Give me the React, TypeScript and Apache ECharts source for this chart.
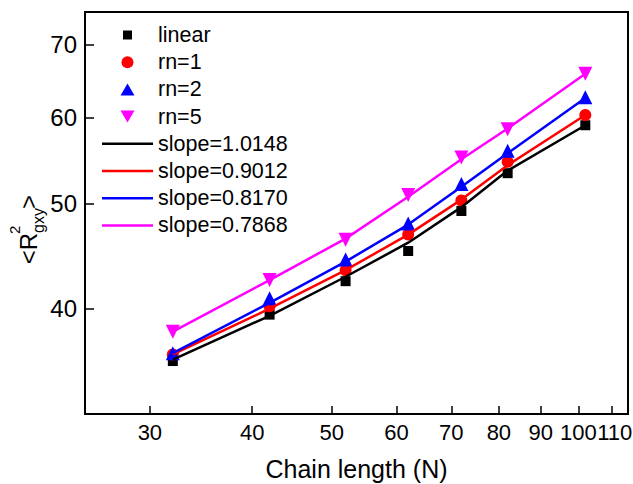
import React, { useEffect, useRef } from "react";
import * as echarts from "echarts";

const chainLengths = [32, 42, 52, 62, 72, 82, 102];
const linearPts = [35.8, 39.5, 42.4, 45.2, 49.2, 53.3, 59.0];
const rn1Pts = [36.3, 40.2, 43.4, 46.8, 50.3, 54.6, 60.3];
const rn2Pts = [36.4, 40.9, 44.4, 47.9, 52.1, 55.9, 62.6];
const rn5Pts = [38.1, 42.5, 46.3, 50.9, 55.1, 58.5, 65.8];
const fitBlack = [35.9, 39.4, 42.8, 46.0, 49.6, 53.6, 59.0];
const fitRed = [36.3, 40.0, 43.4, 46.8, 50.4, 54.2, 60.3];
const fitBlue = [36.4, 40.5, 44.2, 47.8, 51.8, 55.6, 62.5];
const fitMagenta = [38.1, 42.5, 46.4, 50.7, 54.9, 58.6, 65.8];
const xTicks = [30, 40, 50, 60, 70, 80, 90, 100, 110];
const xLabelsMain = [30, 40, 50, 60, 70, 80, 90, 100];
const xLabelsExtra = [110];
const yTicks = [40, 50, 60, 70];

const FONT = "'Liberation Sans', Arial, sans-serif";
const LINE_ICON = "path://M0,0H60V3H0Z";
const SQUARE_ICON = "path://M0,0M14,14M2.5,2.5H11.5V11.5H2.5Z";
const CIRCLE_ICON = "path://M0,0M14,14M7,1A6,6,0,1,1,7,13A6,6,0,1,1,7,1Z";
const UP_ICON = "path://M0,0M14,14M7,1L14,13L0,13Z";
const DOWN_ICON = "path://M0,0M14,14M0,1L14,1L7,13Z";

const pair = (ys: number[]) => chainLengths.map((x, i) => [x, ys[i]]);

export default function App() {
  const ref = useRef<HTMLDivElement>(null);
  useEffect(() => {
    if (!ref.current) return;
    const chart = echarts.init(ref.current, undefined, { renderer: "svg" });
    const scatter = (name: string, data: number[], symbol: string, size: number, color: string, rotate = 0) => ({
      name,
      type: "scatter",
      data: pair(data),
      symbol,
      symbolSize: size,
      symbolRotate: rotate,
      itemStyle: { color, opacity: 1 },
      z: 2,
    });
    const line = (name: string, data: number[], color: string) => ({
      name,
      type: "line",
      data: pair(data),
      symbol: "none",
      smooth: false,
      lineStyle: { color, width: 2.5 },
      itemStyle: { color },
      z: 3,
    });
    const axisCommon = {
      type: "log",
      logBase: 10,
      min: 25,
      max: 115,
      splitLine: { show: false },
      minorTick: { show: false },
    };
    chart.setOption({
      animation: false,
      backgroundColor: "#fff",
      grid: {
        left: 85,
        right: 5,
        top: 12,
        bottom: 70,
        containLabel: false,
        outerBoundsMode: "none",
        show: true,
        borderColor: "#000",
        borderWidth: 2,
        backgroundColor: "transparent",
      },
      legend: {
        orient: "vertical",
        left: 97,
        top: 19,
        itemWidth: 51,
        itemHeight: 14,
        itemGap: 5.2,
        symbolKeepAspect: true,
        textStyle: { fontSize: 21.5, fontFamily: FONT, color: "#000", lineHeight: 21.5 },
        data: [
          { name: "linear", icon: SQUARE_ICON },
          { name: "rn=1", icon: CIRCLE_ICON },
          { name: "rn=2", icon: UP_ICON },
          { name: "rn=5", icon: DOWN_ICON },
          { name: "slope=1.0148", icon: LINE_ICON },
          { name: "slope=0.9012", icon: LINE_ICON },
          { name: "slope=0.8170", icon: LINE_ICON },
          { name: "slope=0.7868", icon: LINE_ICON },
        ],
      },
      xAxis: [
        {
          ...axisCommon,
          name: "Chain length (N)",
          nameLocation: "middle",
          nameGap: 42,
          nameTextStyle: { fontSize: 25, fontFamily: FONT, color: "#000" },
          axisLine: { show: true, lineStyle: { color: "#000", width: 2 } },
          axisTick: { show: true, inside: true, length: 8, lineStyle: { color: "#000", width: 1.5 }, customValues: xTicks },
          axisLabel: { fontSize: 22, fontFamily: FONT, color: "#000", margin: 7, customValues: xLabelsMain, hideOverlap: false },
        },
        {
          ...axisCommon,
          position: "bottom",
          axisLine: { show: false },
          axisTick: { show: false },
          axisLabel: {
            fontSize: 22,
            fontFamily: FONT,
            color: "#000",
            margin: 7,
            customValues: xLabelsExtra,
            hideOverlap: false,
            formatter: (v: number) => `{a|${v}}`,
            rich: { a: { fontSize: 22, fontFamily: FONT, color: "#000", padding: [0, 0, 0, 5] } },
          },
        },
      ],
      yAxis: {
        type: "log",
        logBase: 10,
        min: 32,
        max: 75,
        axisLine: { show: true, lineStyle: { color: "#000", width: 2 } },
        axisTick: { show: true, inside: true, length: 9, lineStyle: { color: "#000", width: 1.5 }, customValues: yTicks },
        axisLabel: { fontSize: 24, fontFamily: FONT, color: "#000", margin: 8, customValues: yTicks },
        splitLine: { show: false },
        minorTick: { show: false },
      },
      graphic: [
        {
          type: "group",
          x: 28,
          y: 238,
          rotation: Math.PI / 2,
          children: [
            { type: "text", x: 5, y: 0, style: { text: "<R", fontSize: 24, fontFamily: FONT, fill: "#000", align: "right", verticalAlign: "middle" } },
            { type: "text", x: 4, y: -14, style: { text: "2", fontSize: 15, fontFamily: FONT, fill: "#000", align: "left", verticalAlign: "middle" } },
            { type: "text", x: 5, y: 10, style: { text: "gxy", fontSize: 16, fontFamily: FONT, fill: "#000", align: "left", verticalAlign: "middle" } },
            { type: "text", x: 29, y: 0, style: { text: ">", fontSize: 24, fontFamily: FONT, fill: "#000", align: "left", verticalAlign: "middle" } },
          ],
        },
      ],
      series: [
        scatter("linear", linearPts, "rect", 10, "#000000"),
        scatter("rn=1", rn1Pts, "circle", 12, "#ff0000"),
        scatter("rn=2", rn2Pts, "triangle", 14, "#0000ff"),
        scatter("rn=5", rn5Pts, "triangle", 14, "#ff00ff", 180),
        line("slope=1.0148", fitBlack, "#000000"),
        line("slope=0.9012", fitRed, "#ff0000"),
        line("slope=0.8170", fitBlue, "#0000ff"),
        line("slope=0.7868", fitMagenta, "#ff00ff"),
      ],
    });
    return () => chart.dispose();
  }, []);
  return <div ref={ref} style={{ width: 633, height: 484, position: "absolute", left: 0, top: 0 }} />;
}
